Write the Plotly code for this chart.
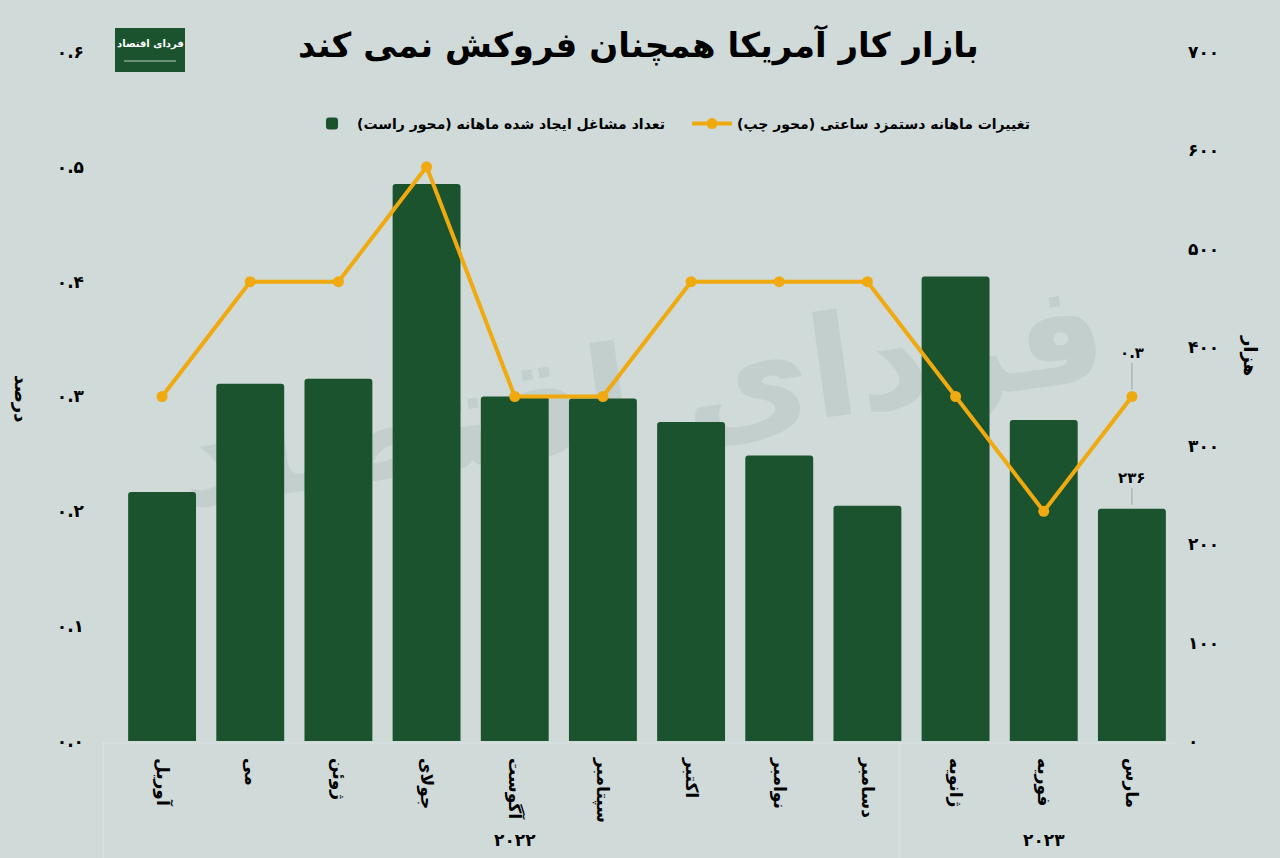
import plotly.graph_objects as go

months = ["آوریل", "می", "ژوئن", "جولای", "آگوست", "سپتامبر", "اکتبر", "نوامبر", "دسامبر", "ژانویه", "فوریه", "مارس"]
jobs = [253, 363, 368, 566, 350, 348, 324, 290, 239, 472, 326, 236]
wages = [0.3, 0.4, 0.4, 0.5, 0.3, 0.3, 0.4, 0.4, 0.4, 0.3, 0.2, 0.3]
left_ticks = [0.0, 0.1, 0.2, 0.3, 0.4, 0.5, 0.6]
left_ticktext = ["۰.۰", "۰.۱", "۰.۲", "۰.۳", "۰.۴", "۰.۵", "۰.۶"]
right_ticks = [0, 100, 200, 300, 400, 500, 600, 700]
right_ticktext = ["۰", "۱۰۰", "۲۰۰", "۳۰۰", "۴۰۰", "۵۰۰", "۶۰۰", "۷۰۰"]
years = ["۲۰۲۲", "۲۰۲۳"]
year_pos = ["آگوست", "فوریه"]

title = "بازار کار آمریکا همچنان فروکش نمی کند"
bar_name = "تعداد مشاغل ایجاد شده ماهانه (محور راست)"
line_name = "تغییرات ماهانه دستمزد ساعتی (محور چپ)"

BG = "#cfdad9"
GREEN = "#1b532e"
ORANGE = "#f0a90e"
FONT = "DejaVu Sans"

W, H = 1280, 858
L, R, T, B = 118, 1176, 52, 741


def px(x):
    return (x - L) / (R - L)


def py(y):
    return (B - y) / (B - T)


def txt(text, x, y, size, color="#000", angle=0):
    return dict(text=text, xref="paper", yref="paper", x=px(x), y=py(y), xanchor="center",
                yanchor="middle", showarrow=False, textangle=angle,
                font=dict(family=FONT, size=size, color=color, weight="bold"))


fig = go.Figure()
fig.add_trace(go.Bar(x=months, y=jobs, name=bar_name,
                     marker=dict(color=GREEN, line=dict(width=0), cornerradius=3),
                     yaxis="y"))
fig.add_trace(go.Scatter(x=months, y=wages, name=line_name, mode="lines+markers",
                         line=dict(color=ORANGE, width=4), marker=dict(color=ORANGE, size=11),
                         yaxis="y2"))

annotations = [
    txt(title, 638, 45, 34),
    txt("فردای اقتصاد", 150, 44, 10, "#fff"),
    txt("درصد", 22, 398, 18, angle=90),
    txt("هزار", 1250, 355, 18, angle=90),
]
for yt, pos in zip(years, year_pos):
    annotations.append(dict(text=yt, xref="x", yref="paper", x=pos, y=py(840), xanchor="center",
                            yanchor="middle", showarrow=False,
                            font=dict(family=FONT, size=17, color="#000", weight="bold")))
annotations.append(dict(text=left_ticktext[3], xref="x", yref="y2", x=months[-1], y=wages[-1],
                        ax=0, ay=-44, showarrow=True, arrowhead=0, arrowwidth=1, arrowcolor="#9aa3a2",
                        standoff=7, font=dict(family=FONT, size=15, color="#000", weight="bold")))
annotations.append(dict(text="۲۳۶", xref="x", yref="y", x=months[-1], y=jobs[-1],
                        ax=0, ay=-31, showarrow=True, arrowhead=0, arrowwidth=1, arrowcolor="#9aa3a2",
                        standoff=4, font=dict(family=FONT, size=15, color="#000", weight="bold")))

line_col = "rgba(255,255,255,0.28)"
shapes = [
    # watermark behind the bars
    dict(type="rect", xref="paper", yref="paper", x0=px(250), x1=px(1030), y0=py(540), y1=py(230),
         fillcolor="rgba(0,0,0,0)", line=dict(width=0), layer="below",
         label=dict(text="فردای اقتصاد", textposition="middle center", textangle=-8,
                    font=dict(family=FONT, size=140, color="#c2cfcc", weight="bold"))),
    dict(type="rect", xref="paper", yref="paper", x0=px(115), x1=px(185), y0=py(72), y1=py(28),
         fillcolor=GREEN, line=dict(width=0), layer="above"),
    dict(type="line", xref="paper", yref="paper", x0=px(124), x1=px(176), y0=py(61), y1=py(61),
         line=dict(color="rgba(255,255,255,0.7)", width=1), layer="above"),
    dict(type="line", xref="paper", yref="paper", x0=px(103), x1=px(1176), y0=py(743), y1=py(743),
         line=dict(color=line_col, width=1)),
    dict(type="line", xref="paper", yref="paper", x0=px(103), x1=px(103), y0=py(743), y1=py(858),
         line=dict(color=line_col, width=1)),
    dict(type="line", xref="paper", yref="paper", x0=px(899), x1=px(899), y0=py(743), y1=py(858),
         line=dict(color=line_col, width=1)),
]

fig.update_layout(
    width=W, height=H,
    margin=dict(l=L, r=W - R, t=T, b=H - B, autoexpand=False),
    paper_bgcolor=BG, plot_bgcolor=BG,
    font=dict(family=FONT, size=15, color="#000", weight="bold"),
    bargap=0.23,
    showlegend=True,
    legend=dict(orientation="h", x=px(307), xanchor="left", y=py(124), yanchor="middle",
                bgcolor="rgba(0,0,0,0)", font=dict(family=FONT, size=14, color="#000", weight="bold"),
                itemwidth=40, entrywidth=325, entrywidthmode="pixels"),
    xaxis=dict(tickangle=90, showgrid=False, zeroline=False, showline=False, ticks="", automargin=False,
               range=[-0.5, len(months) - 0.5],
               tickfont=dict(family=FONT, size=17, color="#000", weight="bold"), ticklabelstandoff=16),
    yaxis=dict(side="right", range=[0, 700], tickvals=right_ticks, ticktext=right_ticktext, automargin=False,
               showgrid=False, zeroline=False, showline=False, ticks="", ticklabelstandoff=11,
               tickfont=dict(family=FONT, size=17, color="#000", weight="bold")),
    yaxis2=dict(side="left", overlaying="y", range=[0, 0.6], tickvals=left_ticks, ticktext=left_ticktext,
                automargin=False,
                showgrid=False, zeroline=False, showline=False, ticks="", ticklabelstandoff=33,
                tickfont=dict(family=FONT, size=17, color="#000", weight="bold")),
    annotations=annotations,
    shapes=shapes,
)

fig.write_html("out.html")
